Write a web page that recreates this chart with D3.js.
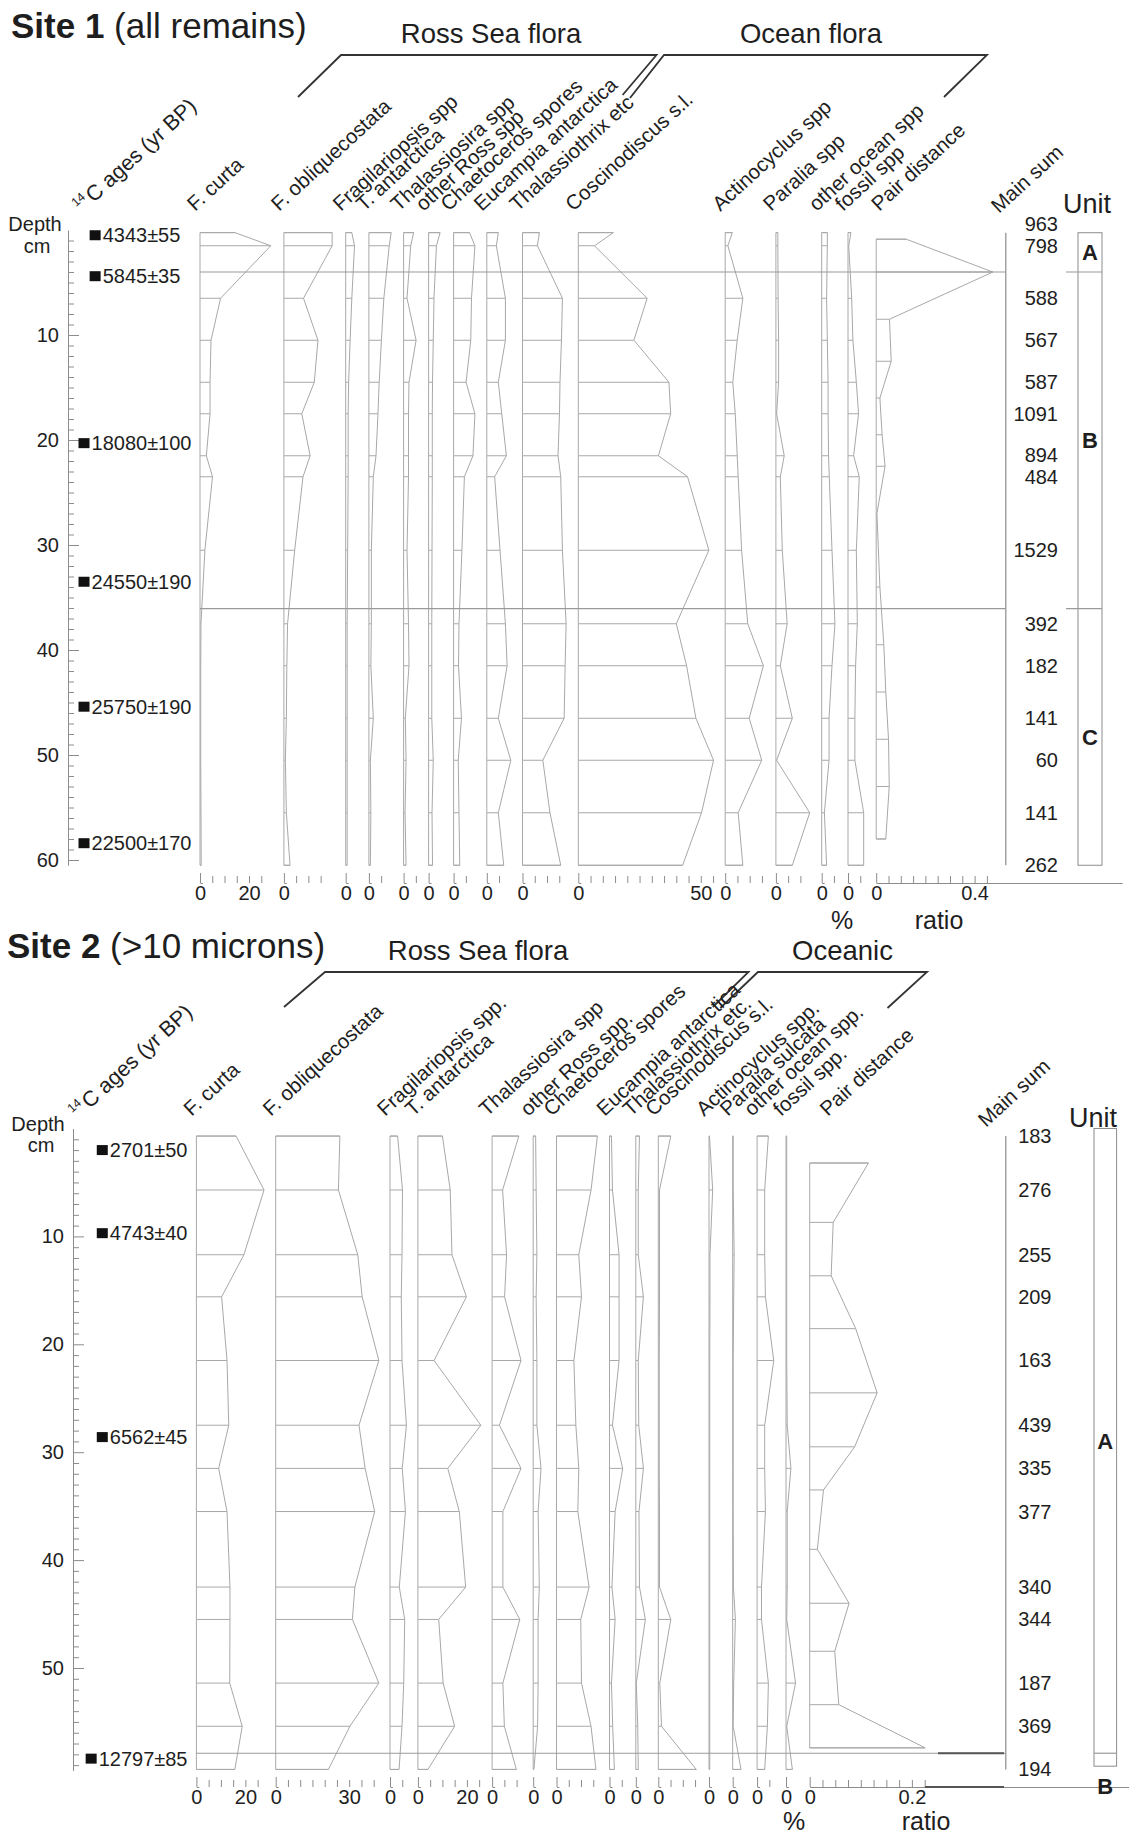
<!DOCTYPE html>
<html><head><meta charset="utf-8">
<script src="https://cdn.jsdelivr.net/npm/d3@7"></script>
<style>
body{margin:0;background:#fff;}
svg{display:block;font-family:"Liberation Sans",Arial,Helvetica,sans-serif;color:#1e1e1e;}
text{fill:#1e1e1e;}
</style></head><body>
<svg id="chart" width="1129" height="1837"></svg>
<script>
// ================= SITE 1 DATA =================
const site1Taxa = ["F. curta","F. obliquecostata","Fragilariopsis spp","T. antarctica","Thalassiosira spp","other Ross spp","Chaetoceros spores","Eucampia antarctica","Thalassiothrix etc","Coscinodiscus s.l.","Actinocyclus spp","Paralia spp","other ocean spp","fossil spp"];
const site1Depths = [0.25, 1.5, 6.5, 10.5, 14.5, 17.5, 21.5, 23.5, 30.5, 37.5, 41.5, 46.5, 50.5, 55.5, 60.5];
const site1FCurta = [14.3, 28.9, 8.4, 4.5, 4.1, 4.1, 2.6, 5.1, 2.0, 0.4, 0.3, 0.3, 0.3, 0.4, 0.5];
const site1FObliq = [19.7, 19.7, 8.0, 13.9, 12.4, 7.3, 10.7, 7.8, 4.4, 1.5, 1.2, 1.0, 0.6, 1.0, 2.5];
const site1Fragil = [2.5, 3.6, 2.5, 1.8, 1.2, 1.0, 1.0, 1.0, 0.8, 0.6, 0.6, 0.6, 0.6, 0.6, 0.6];
const site1TAnt = [9.1, 8.3, 6.1, 5.1, 4.2, 3.7, 2.9, 1.8, 1.0, 1.0, 0.8, 1.8, 0.6, 0.8, 0.6];
const site1Thalassiosira = [4.1, 2.9, 1.4, 5.1, 2.2, 2.0, 2.0, 2.0, 1.4, 2.0, 2.2, 0.7, 1.0, 0.6, 1.0];
const site1OtherRoss = [4.7, 3.2, 2.2, 1.9, 1.6, 1.5, 1.5, 1.5, 1.4, 1.3, 1.3, 1.3, 1.9, 1.4, 1.6];
const site1Chaet = [6.5, 8.7, 7.3, 7.0, 5.1, 8.7, 7.9, 4.4, 3.4, 2.2, 2.0, 3.2, 1.9, 2.2, 2.5];
const site1Eucampia = [4.7, 3.9, 7.6, 7.6, 4.7, 6.1, 8.0, 3.2, 5.4, 7.6, 8.3, 4.7, 9.8, 4.7, 6.9];
const site1Thalassiothrix = [6.9, 6.1, 16.3, 15.9, 15.3, 15.1, 14.5, 15.6, 16.3, 17.8, 17.4, 17.0, 8.3, 11.2, 15.6];
const site1Cosc = [14.3, 6.6, 28.1, 22.7, 37.0, 37.7, 32.7, 44.6, 53.3, 40.0, 44.2, 48.0, 55.2, 50.3, 42.6];
const site1Actino = [2.9, 1.1, 7.2, 4.9, 3.1, 4.1, 4.9, 5.3, 6.7, 9.2, 15.6, 9.8, 14.9, 5.3, 7.2];
const site1Paralia = [0.8, 0.8, 0.9, 1.1, 1.1, 0.3, 3.4, 1.8, 2.6, 4.6, 1.8, 6.7, 0.3, 13.8, 6.7];
const site1OtherOcean = [2.3, 2.3, 2.0, 2.3, 2.6, 2.6, 2.8, 3.1, 4.2, 5.4, 4.2, 3.0, 3.0, 1.1, 2.0];
const site1Fossil = [1.2, 0.3, 1.5, 2.0, 3.4, 4.3, 2.3, 4.6, 3.4, 3.8, 3.1, 2.8, 2.8, 6.4, 6.4];
const site1Series = [site1FCurta, site1FObliq, site1Fragil, site1TAnt, site1Thalassiosira, site1OtherRoss, site1Chaet, site1Eucampia, site1Thalassiothrix, site1Cosc, site1Actino, site1Paralia, site1OtherOcean, site1Fossil];
const site1PairDistance = [0.122, 0.474, 0.054, 0.061, 0.015, 0.024, 0.036, 0.003, 0.015, 0.031, 0.039, 0.050, 0.053, 0.039];
const site1MainSum = [963, 798, 588, 567, 587, 1091, 894, 484, 1529, 392, 182, 141, 60, 141, 262];
const site1Ages = ["4343±55","5845±35","18080±100","24550±190","25750±190","22500±170"];
const site1AgeDepths = [0.5, 4.4, 20.3, 33.5, 45.4, 58.4];
const site1UnitNames = ["A","B","C"];
const site1UnitBounds = [4.0, 36.05];
const site1TickLabels = [[0,20],[0],[0],[0],[0],[0],[0],[0],[0],[0,50],[0],[0],[0],[0]];
const site1PairTickLabels = [0, 0.4];
const site1DepthLabels = [10, 20, 30, 40, 50, 60];

// ================= SITE 2 DATA =================
const site2Taxa = ["F. curta","F. obliquecostata","Fragilariopsis spp.","T. antarctica","Thalassiosira spp","other Ross spp.","Chaetoceros spores","Eucampia antarctica","Thalassiothrix etc.","Coscinodiscus s.l.","Actinocyclus spp.","Paralia  sulcata","other ocean spp.","fossil spp."];
const site2Depths = [0.7, 5.7, 11.7, 15.6, 21.5, 27.5, 31.5, 35.5, 42.5, 45.5, 51.4, 55.4, 59.4];
const site2FCurta = [16.2, 27.6, 19.4, 10.3, 12.5, 13.2, 9.1, 12.5, 13.7, 13.7, 13.6, 18.7, 15.7];
const site2FObliq = [26.2, 25.6, 33.5, 35.3, 42.1, 34.0, 36.5, 40.4, 32.3, 31.3, 42.1, 30.3, 21.5];
const site2Fragil = [3.1, 5.1, 4.9, 4.6, 4.9, 6.7, 5.0, 6.3, 3.8, 6.0, 5.6, 4.9, 3.7];
const site2TAnt = [10.0, 13.2, 13.9, 19.8, 6.6, 25.7, 12.2, 16.9, 19.5, 8.5, 10.3, 15.0, 4.1];
const site2Thalassiosira = [10.9, 4.3, 5.9, 5.1, 11.8, 3.0, 11.8, 4.4, 4.4, 11.3, 4.4, 5.0, 9.9];
const site2OtherRoss = [1.0, 1.2, 1.5, 1.2, 1.5, 1.5, 3.2, 2.0, 2.5, 2.0, 2.0, 1.8, 0.3];
const site2Chaet = [16.7, 14.1, 9.1, 10.2, 7.1, 7.9, 9.1, 8.7, 13.3, 9.9, 10.2, 14.1, 16.1];
const site2Eucampia = [0.8, 1.2, 3.9, 3.9, 3.9, 1.2, 5.4, 2.3, 1.0, 2.3, 0.8, 1.3, 2.0];
const site2Thalassiothrix = [1.5, 1.0, 1.0, 3.1, 1.0, 1.2, 3.1, 1.3, 1.5, 3.9, 0.2, 0.8, 1.0];
const site2Cosc = [5.1, 0.5, 0.5, 0.5, 0.4, 0.4, 0.4, 0.5, 0.5, 5.1, 0.6, 1.3, 15.5];
const site2Actino = [0.2, 1.5, 0.4, 0.4, 0.3, 0.3, 0.3, 0.3, 0.3, 0.3, 0.3, 0.3, 0.3];
const site2Paralia = [0.2, 0.2, 0.6, 0.4, 0.2, 0.2, 0.2, 0.2, 0.3, 1.1, 0.4, 0.2, 3.4];
const site2OtherOcean = [4.6, 3.1, 3.1, 3.4, 6.8, 3.1, 3.1, 3.4, 1.8, 1.8, 4.6, 4.2, 3.1];
const site2Fossil = [0.3, 0.3, 0.3, 0.3, 0.3, 0.5, 2.0, 0.5, 0.5, 0.3, 3.9, 0.3, 2.6];
const site2Series = [site2FCurta, site2FObliq, site2Fragil, site2TAnt, site2Thalassiosira, site2OtherRoss, site2Chaet, site2Eucampia, site2Thalassiothrix, site2Cosc, site2Actino, site2Paralia, site2OtherOcean, site2Fossil];
const site2PairDistance = [0.115, 0.046, 0.042, 0.090, 0.132, 0.088, 0.027, 0.015, 0.077, 0.049, 0.057, 0.226];
const site2MainSum = [183, 276, 255, 209, 163, 439, 335, 377, 340, 344, 187, 369, 194];
const site2Ages = ["2701±50","4743±40","6562±45","12797±85"];
const site2AgeDepths = [2.0, 9.7, 28.6, 58.4];
const site2UnitNames = ["A","B"];
const site2UnitBounds = [57.9];
const site2TickLabels = [[0,20],[0,30],[0],[0,20],[0],[0],[0],[0],[0],[0],[0],[0],[0],[0]];
const site2PairTickLabels = [0, 0.2];
const site2DepthLabels = [10, 20, 30, 40, 50];

// ================= LAYOUT =================
const INK = "#1e1e1e", LINE = "#a8a8a8", AXIS = "#8c8c8c", BOUND = "#9a9a9a";
const ROT = -42.5, LABEL_FS = 20.5;
const layout1 = {
  titleX: 11, titleY: 38, titleBold: "Site 1", titleRest: " (all remains)",
  groupY: 43,
  groups: [
    {name: "Ross Sea flora", cx: 491, bracket: [[298,97],[341,55],[656.5,55],[622.6,95]]},
    {name: "Ocean flora", cx: 811, bracket: [[630,98],[664,55],[987,55],[944,97]]}
  ],
  y0: 230, pxPerCm: 10.5, depthMax: 60.5, depthTickMax: 60,
  axisX: 68, depthWord: [35, 231], cmWord: [37, 253],
  zeros: [200, 283.9, 345.7, 368.9, 403.6, 428.6, 453.6, 486.8, 522.5, 578.3, 725.2, 775.9, 821.7, 848],
  pairZero: 876.2, pxPerPct: 2.45, pxPerRatio: 246, ratioStep: 0.05,
  bottomAxisY: 883, labelY: 212, labelDx: -5, pairLabelDx: 3,
  agesLabel: [82, 214],
  mainSumX: 1005.8, mainSumTextX: 1058, mainSumLabel: [999, 214], mainSumGap: 22,
  unitX: [1078, 1102], unitLineX0: 1066, unitTop: 0.26, unitBottom: 60.5, unitWord: [1087, 213],
  dateMode: "middle", dateX: 135,
  pctPos: [842, 929], ratioPos: [939, 929],
  extra: []
};
const layout2 = {
  titleX: 7, titleY: 958, titleBold: "Site 2", titleRest: " (>10 microns)",
  groupY: 960,
  groups: [
    {name: "Ross Sea flora", cx: 478, bracket: [[284,1007],[325,972],[748.5,972],[712.8,1007]]},
    {name: "Oceanic", cx: 842.5, bracket: [[720.3,1008],[757.9,972],[927,972],[887.5,1008]]}
  ],
  y0: 1128.5, pxPerCm: 10.79, depthMax: 59.5, depthTickMax: 59,
  axisX: 73, depthWord: [38, 1131], cmWord: [41, 1152],
  zeros: [196.4, 275.7, 390, 417.9, 492.1, 533.2, 556.5, 609.5, 635.8, 658.3, 709, 732.7, 757.1, 786],
  pairZero: 809.7, pxPerPct: 2.45, pxPerRatio: 511, ratioStep: 0.025,
  bottomAxisY: 1787, labelY: 1117, labelDx: -5, pairLabelDx: 18,
  agesLabel: [78, 1120],
  mainSumX: 1005.8, mainSumTextX: 1051.5, mainSumLabel: [986, 1128], mainSumGap: 22,
  unitX: [1094, 1116.6], unitLineX0: 1094, unitTop: 0, unitBottom: 59.1, unitWord: [1093, 1127],
  dateMode: "end", dateX: 187.5,
  pctPos: [794, 1830], ratioPos: [926, 1830],
  extra: [{x1: 938, x2: 1004, depth: 57.9}, {x1: 925, x2: 1004, y: 1787}]
};

const svg = d3.select("#chart");

function drawColumn(g, x, y, depths, vals) {
  const pts = depths.map((d, j) => ({d, v: vals[j]}));
  const area = d3.area().x0(x(0)).x1(p => x(p.v)).y(p => y(p.d));
  g.selectAll(null).data(pts).join("line")
    .attr("x1", x(0)).attr("x2", p => x(p.v))
    .attr("y1", p => y(p.d)).attr("y2", p => y(p.d))
    .attr("stroke", LINE).attr("stroke-width", 1);
  g.append("path").attr("d", area(pts)).attr("fill", "none")
    .attr("stroke", LINE).attr("stroke-width", 1);
}

function bottomAxis(g, x, axisMax, step, labels, axisY) {
  const vals = d3.range(0, axisMax + 1e-9, step);
  const match = v => labels.find(l => Math.abs(l - v) < 1e-6);
  const ax = d3.axisBottom(x).tickValues(vals).tickSize(-7).tickSizeOuter(0).tickPadding(3)
    .tickFormat(v => { const m = match(v); return m === undefined ? "" : String(m); });
  const ag = g.append("g").attr("transform", `translate(0,${axisY})`).call(ax)
    .attr("font-size", 20).attr("font-family", null);
  ag.select(".domain").attr("stroke", AXIS);
  ag.selectAll(".tick line").attr("stroke", AXIS).attr("y2", v => v === 0 ? -10 : -7);
}

function rotLabel(g, x, y, txt) {
  return g.append("text").attr("font-size", LABEL_FS)
    .attr("transform", `translate(${x},${y}) rotate(${ROT})`).text(txt);
}

function drawSite(L, D) {
  const g = svg.append("g");
  const y = d3.scaleLinear().domain([0, L.depthMax]).range([L.y0, L.y0 + L.depthMax * L.pxPerCm]);

  // title
  const t = g.append("text").attr("x", L.titleX).attr("y", L.titleY).attr("font-size", 35);
  t.append("tspan").attr("font-weight", "bold").text(L.titleBold);
  t.append("tspan").text(L.titleRest);

  // groups
  L.groups.forEach(gr => {
    g.append("text").attr("x", gr.cx).attr("y", L.groupY).attr("text-anchor", "middle")
      .attr("font-size", 27.5).text(gr.name);
    g.append("path").attr("d", d3.line()(gr.bracket)).attr("fill", "none")
      .attr("stroke", "#333").attr("stroke-width", 1.8);
  });

  // depth axis
  const dAxis = d3.axisRight(y).tickValues(d3.range(1, L.depthTickMax + 0.01, 1))
    .tickSize(6).tickSizeOuter(0).tickFormat("");
  const dg = g.append("g").attr("transform", `translate(${L.axisX},0)`).call(dAxis);
  dg.select(".domain").attr("stroke", AXIS);
  dg.selectAll(".tick line").attr("stroke", AXIS).attr("x2", d => d % 10 === 0 ? 11 : 6);
  g.selectAll(null).data(D.depthLabels).join("text")
    .attr("x", L.axisX - 9).attr("y", d => y(d)).attr("dy", "0.35em")
    .attr("text-anchor", "end").attr("font-size", 20).text(d => d);
  g.append("text").attr("x", L.depthWord[0]).attr("y", L.depthWord[1]).attr("text-anchor", "middle")
    .attr("font-size", 20).text("Depth");
  g.append("text").attr("x", L.cmWord[0]).attr("y", L.cmWord[1]).attr("text-anchor", "middle")
    .attr("font-size", 20).text("cm");

  // 14C label
  const cl = g.append("text").attr("font-size", 21.5)
    .attr("transform", `translate(${L.agesLabel[0]},${L.agesLabel[1]}) rotate(${ROT})`);
  cl.append("tspan").attr("font-size", 12.5).attr("dy", -9).text("14");
  cl.append("tspan").attr("dy", 9).attr("dx", 2).text("C ages (yr BP)");

  // dates
  D.ages.forEach((a, k) => {
    const yy = y(D.ageDepths[k]);
    const tx = g.append("text").attr("font-size", 20).attr("dy", "0.35em").attr("y", yy).text(a);
    const w = tx.node().getComputedTextLength();
    const sq = 11, gap = 2;
    const textX = L.dateMode === "middle" ? L.dateX - (sq + gap + w) / 2 + sq + gap : L.dateX - w;
    tx.attr("x", textX);
    g.append("rect").attr("x", textX - gap - sq).attr("y", yy - 5).attr("width", sq).attr("height", 10).attr("fill", "#111");
  });

  // taxa columns
  D.series.forEach((vals, i) => {
    const zero = L.zeros[i];
    const dmax = d3.max(vals);
    const axisMax = Math.max(dmax, 4);
    const x = d3.scaleLinear().domain([0, 1]).range([zero, zero + L.pxPerPct]);
    const cg = g.append("g");
    drawColumn(cg, x, y, D.depths, vals);
    bottomAxis(cg, x, axisMax, 5, D.tickLabels[i], L.bottomAxisY);
    rotLabel(g, zero + L.labelDx, L.labelY, D.taxa[i]);
  });

  // pair distance
  const mids = d3.pairs(D.depths, (a, b) => (a + b) / 2);
  const pmax = d3.max(D.pair);
  const xp = d3.scaleLinear().domain([0, 1]).range([L.pairZero, L.pairZero + L.pxPerRatio]);
  const pg = g.append("g");
  drawColumn(pg, xp, y, mids, D.pair);
  bottomAxis(pg, xp, pmax, L.ratioStep, D.pairTickLabels, L.bottomAxisY);
  rotLabel(g, L.pairZero + L.pairLabelDx, L.labelY, "Pair distance");

  // % and ratio
  g.append("text").attr("x", L.pctPos[0]).attr("y", L.pctPos[1]).attr("text-anchor", "middle").attr("font-size", 25).text("%");
  g.append("text").attr("x", L.ratioPos[0]).attr("y", L.ratioPos[1]).attr("text-anchor", "middle").attr("font-size", 25).text("ratio");

  // main sum
  const d0 = D.depths[0], d1 = D.depths[D.depths.length - 1];
  g.append("line").attr("x1", L.mainSumX).attr("x2", L.mainSumX).attr("y1", y(d0)).attr("y2", y(d1))
    .attr("stroke", AXIS).attr("stroke-width", 1.2);
  const ys = D.depths.map(d => y(d));
  for (let k = ys.length - 2; k >= 0; k--) if (ys[k + 1] - ys[k] < L.mainSumGap) ys[k] = ys[k + 1] - L.mainSumGap;
  g.selectAll(null).data(D.mainSum).join("text")
    .attr("x", L.mainSumTextX).attr("y", (d, k) => ys[k]).attr("dy", "0.35em")
    .attr("text-anchor", "end").attr("font-size", 20).text(d => d);
  rotLabel(g, L.mainSumLabel[0], L.mainSumLabel[1], "Main sum");

  // units
  const uTop = y(L.unitTop), uBot = y(L.unitBottom);
  g.append("rect").attr("x", L.unitX[0]).attr("y", uTop).attr("width", L.unitX[1] - L.unitX[0])
    .attr("height", uBot - uTop).attr("fill", "none").attr("stroke", AXIS);
  g.append("text").attr("x", L.unitWord[0]).attr("y", L.unitWord[1]).attr("text-anchor", "middle")
    .attr("font-size", 27).text("Unit");
  const edges = [L.unitTop, ...D.unitBounds, L.unitBottom];
  D.unitNames.forEach((u, k) => {
    const a = y(edges[k]), b = y(edges[k + 1]);
    const cy = (b - a < 24) ? b + 20 : (a + b) / 2;
    g.append("text").attr("x", (L.unitX[0] + L.unitX[1]) / 2).attr("y", cy).attr("dy", "0.35em")
      .attr("text-anchor", "middle").attr("font-weight", "bold").attr("font-size", 22).text(u);
  });
  D.unitBounds.forEach(b => {
    g.append("line").attr("x1", L.zeros[0]).attr("x2", L.mainSumX).attr("y1", y(b)).attr("y2", y(b))
      .attr("stroke", BOUND).attr("stroke-width", 1.2);
    g.append("line").attr("x1", L.unitLineX0).attr("x2", L.unitX[1]).attr("y1", y(b)).attr("y2", y(b))
      .attr("stroke", BOUND).attr("stroke-width", 1.2);
  });
  L.extra.forEach(e => {
    const yy = e.depth !== undefined ? y(e.depth) : e.y;
    g.append("line").attr("x1", e.x1).attr("x2", e.x2).attr("y1", yy).attr("y2", yy)
      .attr("stroke", "#555").attr("stroke-width", 2);
  });
}

drawSite(layout1, {
  taxa: site1Taxa, depths: site1Depths, series: site1Series, pair: site1PairDistance,
  mainSum: site1MainSum, ages: site1Ages, ageDepths: site1AgeDepths,
  unitNames: site1UnitNames, unitBounds: site1UnitBounds, tickLabels: site1TickLabels,
  pairTickLabels: site1PairTickLabels, depthLabels: site1DepthLabels
});
drawSite(layout2, {
  taxa: site2Taxa, depths: site2Depths, series: site2Series, pair: site2PairDistance,
  mainSum: site2MainSum, ages: site2Ages, ageDepths: site2AgeDepths,
  unitNames: site2UnitNames, unitBounds: site2UnitBounds, tickLabels: site2TickLabels,
  pairTickLabels: site2PairTickLabels, depthLabels: site2DepthLabels
});
</script></body></html>
